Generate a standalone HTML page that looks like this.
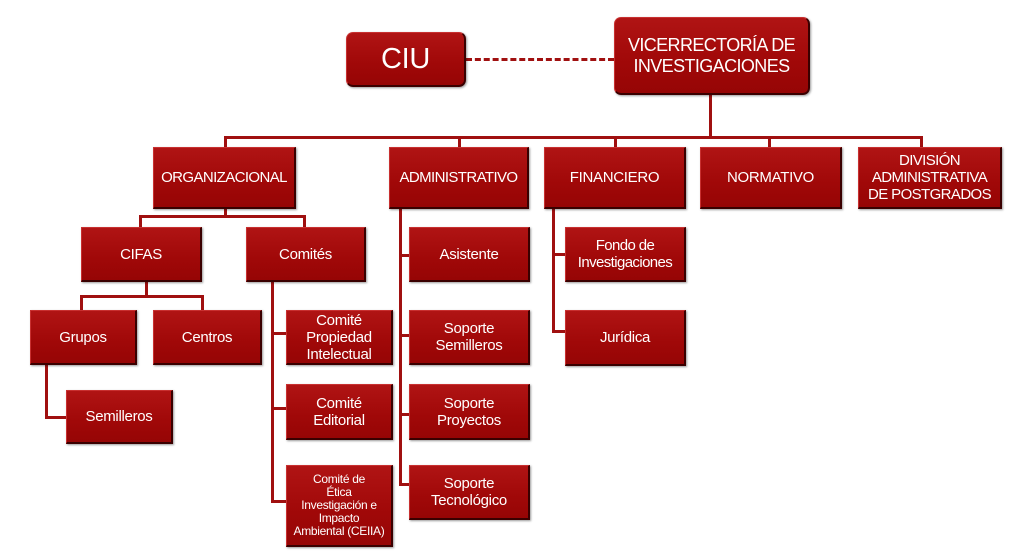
<!DOCTYPE html>
<html><head><meta charset="utf-8"><style>
body{margin:0;width:1035px;height:552px;background:#fff;position:relative;overflow:hidden;font-family:"Liberation Sans",sans-serif}
.b{position:absolute;background:linear-gradient(#b01414,#a00808 60%,#960505);color:#fff;display:flex;align-items:center;justify-content:center;text-align:center;box-sizing:border-box;border:1px solid #c83030;border-right:2px solid #3a0000;border-bottom:2px solid #3a0000;box-shadow:1px 1px 2px rgba(0,0,0,.4);font-size:15px;line-height:17px;letter-spacing:-0.3px}
.r{border-radius:7px}
.l{position:absolute;background:#a01010}
</style></head><body>
<div class="l" style="left:466px;top:58px;width:148px;height:0;border-top:3px dashed #a01010;background:none"></div>
<div class="l" style="left:709px;top:95px;width:3px;height:43px"></div>
<div class="l" style="left:224px;top:136px;width:698px;height:3px"></div>
<div class="l" style="left:224px;top:136px;width:3px;height:11px"></div>
<div class="l" style="left:458px;top:136px;width:3px;height:11px"></div>
<div class="l" style="left:614px;top:136px;width:3px;height:11px"></div>
<div class="l" style="left:768px;top:136px;width:3px;height:11px"></div>
<div class="l" style="left:920px;top:136px;width:3px;height:11px"></div>
<div class="l" style="left:224px;top:209px;width:3px;height:8px"></div>
<div class="l" style="left:139px;top:215px;width:166px;height:3px"></div>
<div class="l" style="left:139px;top:215px;width:3px;height:12px"></div>
<div class="l" style="left:303px;top:215px;width:3px;height:12px"></div>
<div class="l" style="left:145px;top:282px;width:3px;height:14px"></div>
<div class="l" style="left:80px;top:295px;width:123px;height:3px"></div>
<div class="l" style="left:80px;top:295px;width:3px;height:15px"></div>
<div class="l" style="left:201px;top:295px;width:3px;height:15px"></div>
<div class="l" style="left:45px;top:365px;width:3px;height:53px"></div>
<div class="l" style="left:45px;top:416px;width:22px;height:3px"></div>
<div class="l" style="left:271px;top:282px;width:3px;height:220px"></div>
<div class="l" style="left:271px;top:332px;width:15px;height:3px"></div>
<div class="l" style="left:271px;top:407px;width:15px;height:3px"></div>
<div class="l" style="left:271px;top:500px;width:15px;height:3px"></div>
<div class="l" style="left:399px;top:209px;width:3px;height:276px"></div>
<div class="l" style="left:399px;top:254px;width:10px;height:3px"></div>
<div class="l" style="left:399px;top:334px;width:10px;height:3px"></div>
<div class="l" style="left:399px;top:413px;width:10px;height:3px"></div>
<div class="l" style="left:399px;top:483px;width:10px;height:3px"></div>
<div class="l" style="left:552px;top:209px;width:3px;height:123px"></div>
<div class="l" style="left:552px;top:253px;width:13px;height:3px"></div>
<div class="l" style="left:552px;top:330px;width:13px;height:3px"></div>

<div class="b r" style="left:346px;top:32px;width:120px;height:55px;font-size:29px">CIU</div>
<div class="b r" style="left:614px;top:17px;width:196px;height:78px;font-size:18px;line-height:21px;letter-spacing:-0.6px">VICERRECTORÍA DE<br>INVESTIGACIONES</div>
<div class="b" style="left:153px;top:147px;width:143px;height:62px;letter-spacing:-0.6px">ORGANIZACIONAL</div>
<div class="b" style="left:389px;top:147px;width:140px;height:62px;letter-spacing:-0.6px">ADMINISTRATIVO</div>
<div class="b" style="left:544px;top:147px;width:142px;height:62px">FINANCIERO</div>
<div class="b" style="left:700px;top:147px;width:142px;height:62px">NORMATIVO</div>
<div class="b" style="left:858px;top:147px;width:144px;height:62px;letter-spacing:-0.6px">DIVISIÓN<br>ADMINISTRATIVA<br>DE POSTGRADOS</div>
<div class="b" style="left:81px;top:227px;width:121px;height:55px">CIFAS</div>
<div class="b" style="left:246px;top:227px;width:120px;height:55px">Comités</div>
<div class="b" style="left:30px;top:310px;width:107px;height:55px">Grupos</div>
<div class="b" style="left:153px;top:310px;width:109px;height:55px">Centros</div>
<div class="b" style="left:66px;top:390px;width:107px;height:54px">Semilleros</div>
<div class="b" style="left:286px;top:310px;width:107px;height:55px">Comité<br>Propiedad<br>Intelectual</div>
<div class="b" style="left:286px;top:384px;width:107px;height:56px">Comité<br>Editorial</div>
<div class="b" style="left:286px;top:465px;width:107px;height:82px;font-size:12px;line-height:13px">Comité de<br>Ética<br>Investigación e<br>Impacto<br>Ambiental (CEIIA)</div>
<div class="b" style="left:409px;top:227px;width:121px;height:55px">Asistente</div>
<div class="b" style="left:409px;top:310px;width:121px;height:55px">Soporte<br>Semilleros</div>
<div class="b" style="left:409px;top:384px;width:121px;height:56px">Soporte<br>Proyectos</div>
<div class="b" style="left:409px;top:465px;width:121px;height:55px">Soporte<br>Tecnológico</div>
<div class="b" style="left:565px;top:227px;width:121px;height:55px;letter-spacing:-0.6px">Fondo de<br>Investigaciones</div>
<div class="b" style="left:565px;top:310px;width:121px;height:56px">Jurídica</div>
</body></html>
